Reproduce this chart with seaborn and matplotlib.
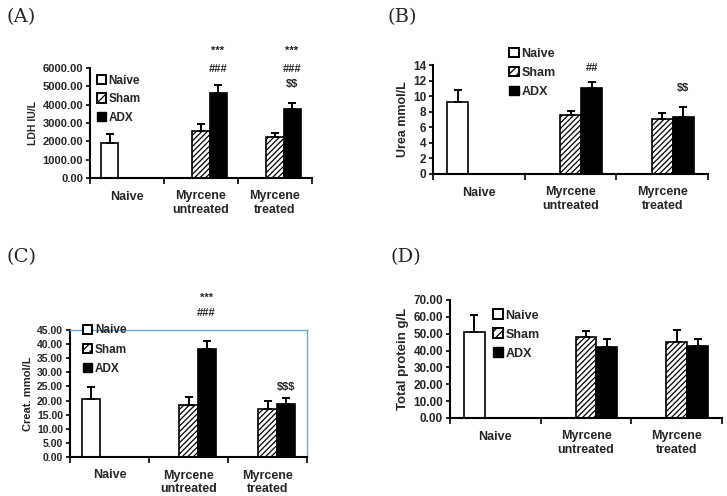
#!/usr/bin/env python3

import pandas as pd
import seaborn as sns
import matplotlib.pyplot as plt
from matplotlib.patches import Patch
from matplotlib.ticker import FormatStrFormatter


groups = ["Naive", "Myrcene\nuntreated", "Myrcene\ntreated"]
treatments = ["Naive", "Sham", "ADX"]

# bars that exist in each panel (same layout in all four)
cell_group = ["Naive", "Myrcene\nuntreated", "Myrcene\nuntreated",
              "Myrcene\ntreated", "Myrcene\ntreated"]
cell_treat = ["Naive", "Sham", "ADX", "Sham", "ADX"]

ldh_mean = [1920, 2570, 4650, 2260, 3740]
ldh_err = [500, 400, 440, 220, 330]
urea_mean = [9.3, 7.6, 11.0, 7.05, 7.35]
urea_err = [1.5, 0.55, 0.85, 0.8, 1.3]
creat_mean = [20.7, 18.3, 38.4, 17.0, 18.8]
creat_err = [4.0, 3.1, 2.7, 2.7, 2.0]
protein_mean = [51.3, 48.3, 42.2, 45.0, 42.8]
protein_err = [9.8, 3.6, 4.9, 7.3, 3.9]

sns.set_style("ticks")
plt.rcParams['font.family'] = ['Liberation Sans', 'DejaVu Sans']
plt.rcParams['font.weight'] = 'bold'
plt.rcParams['hatch.linewidth'] = 0.9

W, H = 727, 496
fig = plt.figure(figsize=(W / 100, H / 100), dpi=100)


def box(l, r, t, b):
    return [l / W, 1 - b / H, (r - l) / W, (b - t) / H]


def panel(rect, mean, err, ylabel, ymax, ystep, fmt, leg_xy, leg_size, marks,
          frame=False, tick_size=7.5, label_size=8, leg_space=0.55):
    ax = fig.add_axes(box(*rect))
    df = pd.DataFrame({"group": cell_group, "treat": cell_treat, "value": mean})
    sns.barplot(data=df, x="group", y="value", hue="treat", order=groups,
                hue_order=treatments, width=0.69, errorbar=None, legend=False,
                palette={"Naive": "white", "Sham": "white", "ADX": "black"},
                edgecolor="black", linewidth=1.2, ax=ax)

    bars = [b for b in ax.patches if b.get_height() > 0]
    for bar in bars:
        w = bar.get_width()
        xc = bar.get_x() + w / 2
        gi = int(round(xc))
        hi = int(round((xc - gi) / w)) + 1
        k = [i for i in range(len(cell_group))
             if cell_group[i] == groups[gi] and cell_treat[i] == treatments[hi]][0]
        if hi == 1:
            bar.set_hatch("//////")
        ax.errorbar(xc, bar.get_height(), yerr=[[0], [err[k]]], fmt="none",
                    ecolor="black", elinewidth=1.4, capsize=3, capthick=1.4)

    ax.set_xlim(-0.5, 2.5)
    ax.set_ylim(0, ymax)
    ax.set_yticks([i * ystep for i in range(int(round(ymax / ystep)) + 1)])
    ax.yaxis.set_major_formatter(FormatStrFormatter(fmt))
    ax.set_xticks([0, 1, 2])
    ax.set_xticklabels(groups, fontsize=9, fontweight="bold")
    ax.set_xticks([-0.5, 0.5, 1.5, 2.5], minor=True)
    ax.tick_params(axis="x", which="major", length=0, pad=9)
    ax.tick_params(axis="x", which="minor", length=4, width=1.4, direction="out")
    ax.tick_params(axis="y", length=3, width=1.4, labelsize=tick_size, pad=2)
    for t in ax.get_yticklabels():
        t.set_fontweight("bold")
    ax.set_xlabel("")
    ax.set_ylabel(ylabel, fontsize=label_size, fontweight="bold", labelpad=3)
    for s in ("left", "bottom"):
        ax.spines[s].set_linewidth(1.5)
        ax.spines[s].set_color("black")
    if frame:
        for s in ("top", "right"):
            ax.spines[s].set_color("#6fa8dc")
            ax.spines[s].set_linewidth(1.0)
    else:
        sns.despine(ax=ax)

    handles = [Patch(facecolor="white", edgecolor="black", linewidth=1.4),
               Patch(facecolor="white", edgecolor="black", hatch="////", linewidth=1.4),
               Patch(facecolor="black", edgecolor="black")]
    ax.legend(handles, treatments, loc="upper left", bbox_to_anchor=leg_xy,
              frameon=False, handlelength=0.8, handleheight=0.8,
              handletextpad=0.2, labelspacing=leg_space, borderaxespad=0,
              borderpad=0, prop={"weight": "bold", "size": leg_size})

    for gi, text, y in marks:
        ax.text(gi + 0.23, y, text, ha="center", va="center", fontsize=8,
                fontweight="bold", clip_on=False, parse_math=False)
    return ax


panel((90, 312, 68, 178), ldh_mean, ldh_err, "LDH IU/L", 6000, 1000, "%.2f",
      (0.03, 0.94), 8.5,
      [(1, "***", 6930), (1, "###", 5950), (2, "***", 6930),
       (2, "###", 5950), (2, "$$", 5130)], tick_size=8, label_size=7.5)
panel((433, 708, 65, 174), urea_mean, urea_err, "Urea mmol/L", 14, 2, "%d",
      (0.276, 1.16), 9,
      [(1, "##", 13.6), (2, "$$", 11.05)], tick_size=8.5, label_size=9)
panel((70, 307, 330, 457), creat_mean, creat_err, "Creat. mmol/L", 45, 5, "%.2f",
      (0.055, 1.045), 8.5,
      [(1, "***", 56.3), (1, "###", 51.0), (2, "$$$", 24.8)], frame=True,
      label_size=8, leg_space=0.62)
panel((450, 722, 300, 418), protein_mean, protein_err, "Total protein g/L", 70, 10,
      "%.2f", (0.158, 0.92), 9, [], tick_size=8.5, label_size=9.5)

for lbl, x, y in [("(A)", 7, 17), ("(B)", 387, 17), ("(C)", 7, 257), ("(D)", 391, 257)]:
    fig.text(x / W, 1 - y / H, lbl, fontsize=14, family="DejaVu Serif",
             fontweight="normal", va="center", ha="left")

fig.savefig("out.png", dpi=100)
